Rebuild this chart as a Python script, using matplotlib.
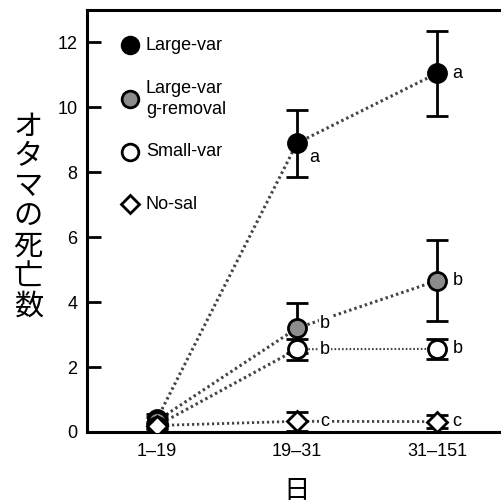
import matplotlib
matplotlib.use("Agg")
import matplotlib.pyplot as plt

plt.rcParams['font.family'] = ['Liberation Sans', 'Noto Sans CJK JP', 'DejaVu Sans']

periods = ["1–19", "19–31", "31–151"]
series_names = ["Large-var", "Large-var\ng-removal", "Small-var", "No-sal"]
large_var = [0.4, 8.9, 11.05]
large_var_err = [0.15, 1.03, 1.3]
g_removal = [0.35, 3.2, 4.66]
g_removal_err = [0.12, 0.78, 1.25]
small_var = [0.2, 2.55, 2.56]
small_var_err = [0.1, 0.33, 0.32]
no_sal = [0.2, 0.33, 0.32]
no_sal_err = [0.08, 0.3, 0.21]
letters = {
    "large": ["", "a", "a"],
    "grem": ["", "b", "b"],
    "small": ["", "b", "b"],
    "nosal": ["", "c", "c"],
}

fig = plt.figure(figsize=(5.02, 5.04), dpi=100)
ax = fig.add_axes([87 / 502, 1 - 432 / 504, 1 - 87 / 502 + 0.01, 422 / 504])

x = list(range(len(periods)))
# (values, errors, marker, face colour, key, line widths of the two segments)
styles = [
    (large_var, large_var_err, "o", "black", "large", (2.2, 2.2)),
    (g_removal, g_removal_err, "o", "#8c8c8c", "grem", (2.2, 2.2)),
    (small_var, small_var_err, "o", "white", "small", (2.2, 1.5)),
    (no_sal, no_sal_err, "D", "white", "nosal", (2.0, 2.0)),
]

for vals, err, mk, fc, key, lws in styles:
    for i, lw in enumerate(lws):
        ax.plot(x[i:i + 2], vals[i:i + 2], linestyle=(0, (0.8, 1.0)),
                color="#444444", lw=lw, zorder=2)
    ax.errorbar(x, vals, yerr=err, fmt="none", ecolor="black", elinewidth=2,
                capsize=8, capthick=2, zorder=3)
    ms = 13 if mk == "o" else 10
    ax.plot(x, vals, linestyle="none", marker=mk, markersize=ms, markerfacecolor=fc,
            markeredgecolor="black", markeredgewidth=2, zorder=4)
    for xi, v, lab in zip(x, vals, letters[key]):
        if not lab:
            continue
        if xi == 1:
            dx = 0.09 if key == "large" else 0.165
        else:
            dx = 0.11
        dy = 0
        if key == "large" and xi == 1:
            dy = -0.45
        elif key == "grem" and xi == 1:
            dy = 0.15
        ax.text(xi + dx, v + dy, lab, fontsize=13, ha="left", va="center",
                bbox=dict(facecolor="white", edgecolor="none", pad=0.5), zorder=5)

ax.set_xlim(-0.5, 2.5)
ax.set_ylim(0, 13)
ax.set_yticks([0, 2, 4, 6, 8, 10, 12])
ax.set_xticks(x)
ax.set_xticklabels(periods)
ax.tick_params(axis="y", direction="in", length=10, width=2, labelsize=13, pad=7)
ax.tick_params(axis="x", length=0, labelsize=13, pad=8)
for s in ["left", "bottom", "top"]:
    ax.spines[s].set_linewidth(2.2)
ax.spines["right"].set_visible(False)

# legend drawn by hand so the spacing matches
legend_marks = [("o", "black", 12), ("o", "#8c8c8c", 12), ("o", "white", 12), ("D", "white", 9)]
legend_y = [0.917, 0.789, 0.664, 0.540]
for (mk, fc, ms), name, ly in zip(legend_marks, series_names, legend_y):
    ax.plot([0.102], [ly], transform=ax.transAxes, linestyle="none", marker=mk,
            markersize=ms, markerfacecolor=fc, markeredgecolor="black",
            markeredgewidth=2, clip_on=False)
    ax.text(0.14, ly, name, transform=ax.transAxes, fontsize=13, ha="left",
            va="center", linespacing=1.25)

ax.text(-0.14, 0.51, "\n".join("オタマの死亡数"), transform=ax.transAxes,
        fontsize=21, ha="center", va="center", linespacing=1.0,
        family=['Noto Sans CJK JP', 'DejaVu Sans'])
ax.set_xlabel("日", fontsize=19, labelpad=12, family=['Noto Sans CJK JP', 'DejaVu Sans'])

fig.savefig("out.png", dpi=100)
